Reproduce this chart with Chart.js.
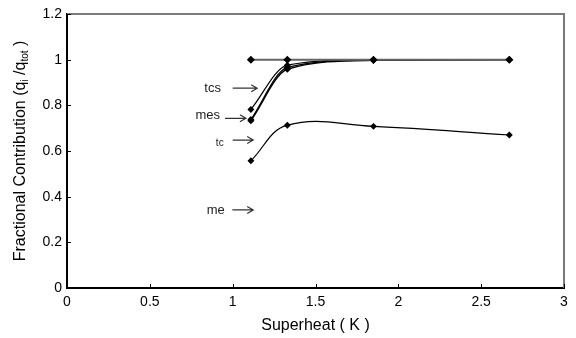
<!DOCTYPE html>
<html>
<head>
<meta charset="utf-8">
<script src="https://cdn.jsdelivr.net/npm/chart.js@4.4.1/dist/chart.umd.min.js"></script>
<style>
  html, body { margin: 0; padding: 0; background: #fff; }
  #wrap { width: 576px; height: 338px; }
</style>
</head>
<body>
<div id="wrap"><canvas id="grafico" width="576" height="338"></canvas></div>
<script>
// dados
const superaquecimento = [1.11, 1.33, 1.85, 2.67];
const serieTopo = [1.0, 1.0, 1.0, 1.0];
const serieTcs = [0.782, 0.976, 1.0, 1.0];
const serieMes = [0.738, 0.966, 0.998, 1.0];
const serieMe = [0.733, 0.958, 0.997, 1.0];
const serieTc = [0.557, 0.713, 0.708, 0.670];
const ticksX = [0, 0.5, 1, 1.5, 2, 2.5, 3];
const ticksY = [0, 0.2, 0.4, 0.6, 0.8, 1, 1.2];

// rotulos com seta (em unidades do grafico)
const anotacoes = [
  { texto: 'tcs', x: 0.879, y: 0.876, de: 1.0, ate: 1.148, ys: 0.875, tam: 13 },
  { texto: 'mes', x: 0.850, y: 0.754, de: 0.954, ate: 1.080, ys: 0.743, tam: 13 },
  { texto: 'tc', x: 0.922, y: 0.634, de: 1.0, ate: 1.124, ys: 0.648, tam: 10 },
  { texto: 'me', x: 0.898, y: 0.339, de: 0.998, ate: 1.124, ys: 0.342, tam: 13 }
];

const fonte = "'Liberation Sans', Arial, sans-serif";

function pontos(ys) {
  return superaquecimento.map((x, i) => ({ x: x, y: ys[i] }));
}

function serie(ys, cor, largura, monotona) {
  return {
    data: pontos(ys),
    borderColor: cor,
    borderWidth: largura,
    backgroundColor: '#000',
    pointBackgroundColor: '#000',
    pointBorderColor: '#000',
    pointStyle: 'rectRot',
    pointRadius: 2.6,
    tension: 0.4,
    cubicInterpolationMode: monotona ? 'monotone' : 'default',
    fill: false
  };
}

function formatar(v) {
  return String(Number(v.toFixed(2)));
}

const extras = {
  id: 'extras',
  afterDraw(chart) {
    const ctx = chart.ctx;
    const a = chart.chartArea;
    const sx = chart.scales.x, sy = chart.scales.y;
    ctx.save();

    // moldura cinza topo/direita
    ctx.strokeStyle = '#7a7a7a';
    ctx.lineWidth = 2;
    ctx.beginPath();
    ctx.moveTo(a.left, a.top);
    ctx.lineTo(a.right, a.top);
    ctx.lineTo(a.right, a.bottom);
    ctx.stroke();

    // ticks para dentro
    ctx.strokeStyle = '#000';
    ctx.lineWidth = 1;
    ticksX.forEach(v => {
      const px = Math.round(sx.getPixelForValue(v)) + 0.5;
      ctx.beginPath();
      ctx.moveTo(px, a.bottom);
      ctx.lineTo(px, a.bottom - 4);
      ctx.stroke();
    });
    ticksY.forEach(v => {
      const py = Math.round(sy.getPixelForValue(v)) + 0.5;
      ctx.beginPath();
      ctx.moveTo(a.left, py);
      ctx.lineTo(a.left + 4, py);
      ctx.stroke();
    });

    // anotacoes
    ctx.fillStyle = '#222';
    ctx.strokeStyle = '#333';
    ctx.lineWidth = 1.2;
    anotacoes.forEach(n => {
      ctx.font = n.tam + 'px ' + fonte;
      ctx.textAlign = 'center';
      ctx.textBaseline = 'middle';
      ctx.fillText(n.texto, sx.getPixelForValue(n.x), sy.getPixelForValue(n.y));
      const x1 = sx.getPixelForValue(n.de), x2 = sx.getPixelForValue(n.ate);
      const y = sy.getPixelForValue(n.ys);
      ctx.beginPath();
      ctx.moveTo(x1, y);
      ctx.lineTo(x2, y);
      ctx.moveTo(x2 - 6, y - 3.5);
      ctx.lineTo(x2, y);
      ctx.lineTo(x2 - 6, y + 3.5);
      ctx.stroke();
    });

    // titulo do eixo y com subscritos
    const partes = [
      ['Fractional Contribution (q', 16, 0],
      ['i', 10, 3],
      [' /q', 16, 0],
      ['tot', 10, 3],
      [' )', 16, 0]
    ];
    let total = 0;
    partes.forEach(p => { ctx.font = p[1] + 'px ' + fonte; total += ctx.measureText(p[0]).width; });
    ctx.translate(20, (a.top + a.bottom) / 2);
    ctx.rotate(-Math.PI / 2);
    ctx.fillStyle = '#000';
    ctx.textAlign = 'left';
    ctx.textBaseline = 'alphabetic';
    let cx = -total / 2;
    partes.forEach(p => {
      ctx.font = p[1] + 'px ' + fonte;
      ctx.fillText(p[0], cx, 5 + p[2]);
      cx += ctx.measureText(p[0]).width;
    });
    ctx.restore();
  }
};

function desenhar() {
  const ctx = document.getElementById('grafico').getContext('2d');
  new Chart(ctx, {
    type: 'line',
    data: {
      datasets: [
        serie(serieTopo, '#666', 2, true),
        serie(serieTcs, '#000', 1.2, true),
        serie(serieMes, '#000', 1.2, true),
        serie(serieMe, '#000', 1.4, true),
        serie(serieTc, '#000', 1.2, false)
      ]
    },
    options: {
      responsive: false,
      animation: false,
      devicePixelRatio: 1,
      layout: { padding: { top: 14, right: 12, left: 0, bottom: 0 } },
      plugins: { legend: { display: false }, tooltip: { enabled: false } },
      scales: {
        x: {
          type: 'linear',
          min: 0,
          max: 3,
          afterBuildTicks: s => { s.ticks = ticksX.map(v => ({ value: v })); },
          afterFit: s => { s.height = 50; },
          grid: { display: false, drawTicks: false },
          border: { display: true, color: '#000', width: 2 },
          ticks: { color: '#000', padding: 6, font: { family: fonte, size: 14 }, maxRotation: 0, callback: formatar },
          title: { display: true, text: 'Superheat ( K )', color: '#000', font: { family: fonte, size: 16 }, padding: { top: 0, bottom: 3 } }
        },
        y: {
          type: 'linear',
          min: 0,
          max: 1.2,
          afterBuildTicks: s => { s.ticks = ticksY.map(v => ({ value: v })); },
          afterFit: s => { s.width = 67; },
          grid: { display: false, drawTicks: false },
          border: { display: true, color: '#000', width: 2 },
          ticks: { color: '#000', padding: 5, font: { family: fonte, size: 14 }, callback: formatar }
        }
      }
    },
    plugins: [extras]
  });
}

document.addEventListener('DOMContentLoaded', desenhar);
</script>
</body>
</html>
